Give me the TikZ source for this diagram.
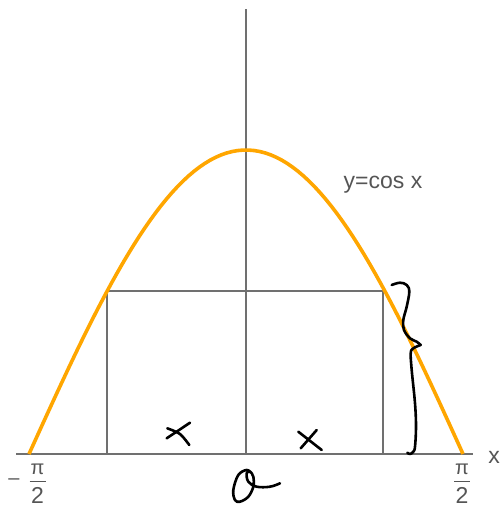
\documentclass[tikz,border=0pt]{standalone}
\usepackage{xcolor}
\usepackage{fontspec}
\setmainfont{Liberation Sans}
\usetikzlibrary{positioning}

\definecolor{axisgray}{RGB}{112,112,112}
\definecolor{cosorange}{RGB}{255,166,0}
\definecolor{labelgray}{RGB}{85,85,85}

\tikzset{
	axis/.style={draw=axisgray, line width=1.6pt},
	box/.style={draw=axisgray, line width=1.6pt},
	curve/.style={draw=cosorange, line width=3.6pt},
	hand/.style={draw=black, line width=2.6pt, line cap=round, line join=round},
	lbl/.style={text=labelgray, inner sep=0pt, font=\fontsize{23}{27}\selectfont},
	numer/.style={lbl, font=\fontsize{20}{24}\selectfont},
	fracbar/.style={draw=labelgray, line width=1.5pt}
}

\begin{document}
\begin{tikzpicture}[x=1pt, y=-1pt]
		\useasboundingbox (0,0) rectangle (500,508);

		% axes
		\coordinate (O) at (246,454);
		\coordinate (xl) at (16,454);
		\coordinate (xr) at (473,454);
		\coordinate (yt) at (246,9);
		\draw[axis] (xl) -- (xr);
		\draw[axis] (O) -- (yt);

		% rectangle under the curve
		\coordinate (A) at (107,291);
		\coordinate (B) at (383,291);
		\coordinate (C) at (383,454);
		\coordinate (D) at (107,454);
		\draw[box] (D) -- (A) -- (B) -- (C);

		% y = cos x
		\draw[curve] plot[domain=-1.5708:1.5708, samples=80] ({246+217*\x/1.5708},{454-304*cos(\x r)});

		\node[lbl] (coslab) at (383,185) {y=cos x};
		\node[lbl] (xlab) at (494,457) {x};

		% -pi/2 and pi/2
		\node[numer] (lpi) at (37.5,469) {π};
		\node[lbl] (ltwo) at (37.5,495.5) {2};
		\draw[fracbar] ([xshift=-8pt, yshift=6pt]ltwo.north) -- ([xshift=8pt, yshift=6pt]ltwo.north);
		\node[numer] (minus) at (14,482) {–};
		\node[numer] (rpi) at (462,469) {π};
		\node[lbl] (rtwo) at (462,495.5) {2};
		\draw[fracbar] ([xshift=-8pt, yshift=6pt]rtwo.north) -- ([xshift=8pt, yshift=6pt]rtwo.north);

		% handwritten marks
		\draw[hand] (190,422.7) -- (166.7,438.3);
		\draw[hand] plot[smooth] coordinates {(167.3,428.3) (180,434) (189.3,445)};
		\draw[hand] (298.3,431.7) -- (321.7,450);
		\draw[hand] (316.7,430) -- (300.7,448.3);
		\draw[hand] plot[smooth, tension=0.6] coordinates {(391.7,285) (400,282.7) (406.7,285) (409.3,291.7) (406.7,306.7) (403.3,320) (404,330) (410,338.3) (416.7,341.7) (420.7,345)};
		\draw[hand] plot[smooth, tension=0.6] coordinates {(420.7,345) (413.3,348.3) (410.7,353.3) (411.7,370) (415,403.3) (416,426.7) (415,446.7) (413.3,451.7) (410,454) (407.3,452.7)};
		\draw[hand] plot[smooth, tension=0.6] coordinates {(251.7,473.3) (246.7,470) (238.3,475) (233.3,490) (235,500) (240,501.7) (248.3,496.7) (253.3,486.7) (253.3,476.7) (250,471.7) (246.7,473.3) (248.3,481.7) (256.7,486.7) (270,486.7) (280,483.3)};
    \end{tikzpicture}
\end{document}
